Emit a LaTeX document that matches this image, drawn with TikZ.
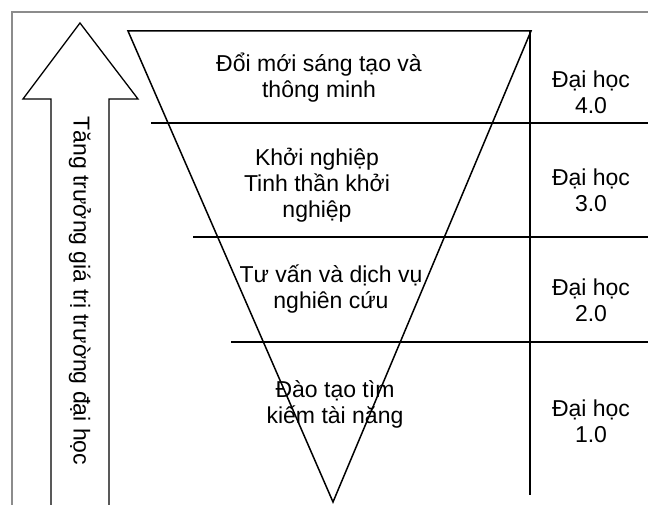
\documentclass[tikz,border=0pt]{standalone}
\usepackage{fontspec}
\setmainfont{Liberation Sans}
\usetikzlibrary{positioning}
\definecolor{FrameGray}{HTML}{8C8C8C}

\begin{document}
\begin{tikzpicture}[x=1pt,y=-1pt,
    lbl/.style={align=center,font=\fontsize{23}{26}\selectfont,inner sep=0pt},
    rule/.style={line width=1.5pt}]
  \useasboundingbox (0,0) rectangle (648,505);
  \draw[FrameGray,line width=1.5pt] (12,505) -- (12,12) -- (648,12);
  \draw[line width=1.3pt] (51,505) -- (51,99) -- (23,99) -- (80,23) -- (138,99) -- (109,99) -- (109,505);
  \node[lbl,rotate=-90] (growth) at (80,291) {Tăng trưởng giá trị trường đại học};
  \draw[rule] (128,31) -- (531,31) -- (333,502) -- cycle;
  \draw[rule] (530,31) -- (530,495);
  \draw[rule] (151,123) -- (648,123);
  \draw[rule] (193,237) -- (648,237);
  \draw[rule] (231,342) -- (648,342);
  \node[lbl] (smart) at (319,78) {Đổi mới sáng tạo và\\thông minh};
  \node[lbl] (startup) at (317,185) {Khởi nghiệp\\Tinh thần khởi\\nghiệp};
  \node[lbl] (consult) at (331,289) {Tư vấn và dịch vụ\\nghiên cứu};
  \node[lbl] (talent) at (335,404) {Đào tạo tìm\\kiếm tài năng};
  \node[lbl] (uni4) at (591,92) {Đại học\\4.0};
  \node[lbl] (uni3) at (591,190) {Đại học\\3.0};
  \node[lbl] (uni2) at (591,300) {Đại học\\2.0};
  \node[lbl] (uni1) at (591,421) {Đại học\\1.0};
\end{tikzpicture}
\end{document}
